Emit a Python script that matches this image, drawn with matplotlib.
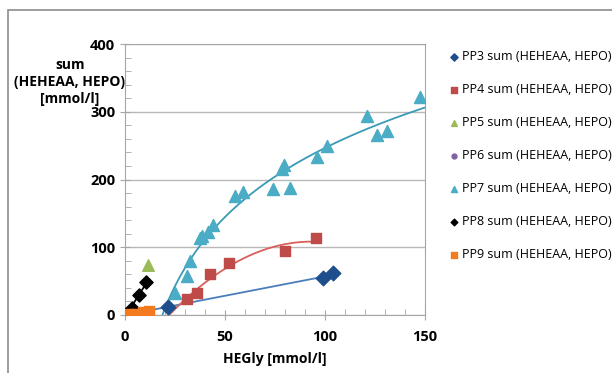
import matplotlib.pyplot as plt
import numpy as np
from matplotlib.patches import Rectangle
from matplotlib.ticker import MultipleLocator

plt.rcParams['font.family'] = ['Open Sans', 'DejaVu Sans']

# values (HEGly, sum) per series
pp3_x = [0, 21.5, 99, 104]
pp3_y = [0, 12, 54, 61.5]
pp4_x = [31, 35.8, 42.5, 52, 80, 95.3]
pp4_y = [24, 32, 60, 77, 95, 113]
pp5_x = [0, 11.7]
pp5_y = [0, 74]
pp6_x = [0]
pp6_y = [0]
pp7_x = [25, 30.8, 32.5, 37.5, 38.5, 41.7, 43.8, 55.2, 59.2, 74.2, 78.3, 79.5,
         82.5, 95.8, 101.2, 120.8, 125.8, 131.2, 147.5]
pp7_y = [32, 57, 80, 113, 117, 123, 133, 175, 181, 186, 215, 221,
         188, 233, 249, 293, 266, 272, 322]
pp8_x = [0, 3.5, 7, 10.5]
pp8_y = [0, 10, 29, 48]
pp9_x = [0, 2, 5, 9, 12]
pp9_y = [0, 1, 2, 4, 6]

label = "sum (HEHEAA, HEPO)"

fig = plt.figure(figsize=(6.12, 3.73), dpi=100)
fig.patches.append(Rectangle((8 / 612, -0.05), 1.2, 1 - 10 / 373 + 0.05,
                             transform=fig.transFigure, fill=False,
                             ec="#8c8c8c", lw=1.2, zorder=0))
ax = fig.add_axes([125 / 612, 1 - 315 / 373, 300 / 612, 271 / 373])

# trendlines (fits computed from the points)
k3 = np.polyfit(pp3_x, pp3_y, 1)
xs = np.linspace(0, 99, 50)
ax.plot(xs, np.polyval(k3, xs), color="#4a7ebb", lw=1.3, zorder=2)

k4 = np.polyfit(pp4_x, pp4_y, 2)
xs = np.linspace(0, 95.3, 100)
ax.plot(xs, np.polyval(k4, xs), color="#d9605c", lw=1.3, zorder=2)

k7 = np.polyfit(np.log(pp7_x), pp7_y, 1)
x0 = np.exp(-k7[1] / k7[0])
xs = np.linspace(x0, 150, 200)
ax.plot(xs, np.polyval(k7, np.log(xs)), color="#3a9bb5", lw=1.3, zorder=2)

k8 = np.polyfit(pp8_x, pp8_y, 1)
xs = np.linspace(0, 10.5, 20)
ax.plot(xs, np.polyval(k8, xs), color="black", lw=1.3, zorder=2)

k9 = np.polyfit(pp9_x, pp9_y, 1)
xs = np.linspace(0, 12, 20)
ax.plot(xs, np.polyval(k9, xs), color="#f07f2a", lw=1.3, zorder=2)

ax.scatter(pp3_x, pp3_y, marker="D", s=55, color="#1f4e8c", label="PP3 " + label, zorder=3)
ax.scatter(pp4_x, pp4_y, marker="s", s=55, color="#be4b48", label="PP4 " + label, zorder=3)
ax.scatter(pp5_x, pp5_y, marker="^", s=70, color="#9bbb59", label="PP5 " + label, zorder=3)
ax.scatter(pp6_x, pp6_y, marker="o", s=50, color="#8064a2", label="PP6 " + label, zorder=3)
ax.scatter(pp7_x, pp7_y, marker="^", s=75, color="#4bacc6", label="PP7 " + label, zorder=3)
ax.scatter(pp8_x, pp8_y, marker="D", s=45, color="black", label="PP8 " + label, zorder=3)
ax.scatter(pp9_x, pp9_y, marker="s", s=60, color="#f47a20", label="PP9 " + label, zorder=3)

ax.set_xlim(0, 150)
ax.set_ylim(0, 400)
ax.xaxis.set_major_locator(MultipleLocator(50))
ax.xaxis.set_minor_locator(MultipleLocator(10))
ax.yaxis.set_major_locator(MultipleLocator(100))
ax.yaxis.set_minor_locator(MultipleLocator(20))
ax.grid(True, which="major", axis="y", color="#b8b8b8", lw=1)
ax.set_axisbelow(True)
for s in ax.spines.values():
    s.set_color("#a6a6a6")
ax.tick_params(which="major", direction="inout", length=7, color="#a6a6a6",
               labelsize=10.5)
ax.tick_params(axis="x", which="major", pad=7)
ax.tick_params(which="minor", direction="in", length=4, color="#a6a6a6")
for t in ax.get_xticklabels() + ax.get_yticklabels():
    t.set_fontweight("bold")

ax.set_xlabel("HEGly [mmol/l]", fontsize=10, fontweight="bold", labelpad=6)
fig.text(70 / 612, 1 - 82 / 373, "sum\n(HEHEAA, HEPO)\n[mmol/l]", ha="center",
         va="center", fontsize=10, fontweight="bold", linespacing=1.3)

fig.legend(loc="upper left", bbox_to_anchor=(443 / 612, 1 - 45 / 373),
           frameon=False, fontsize=9, labelspacing=1.6, handletextpad=0.1,
           handlelength=1.0, markerscale=0.5, borderaxespad=0)

fig.savefig("out.png", dpi=100)
